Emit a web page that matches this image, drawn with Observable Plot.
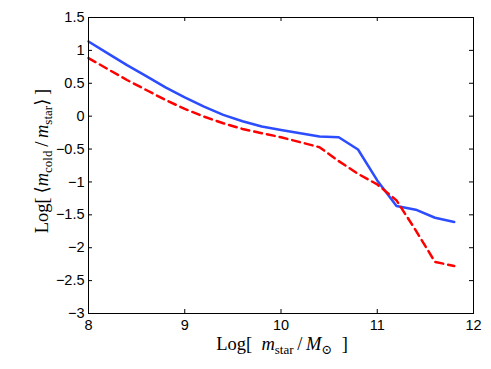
<!DOCTYPE html>
<html><head><meta charset="utf-8">
<script src="https://cdn.jsdelivr.net/npm/d3@7"></script>
<script src="https://cdn.jsdelivr.net/npm/@observablehq/plot@0.6"></script>
<style>body{margin:0;background:#fff}</style>
</head><body><div id="chart"></div>
<script>
const logMstar = [8.0, 8.2, 8.4, 8.6, 8.8, 9.0, 9.2, 9.4, 9.6, 9.8, 10.0, 10.2, 10.4, 10.6, 10.8, 11.0, 11.2, 11.4, 11.6, 11.8];
const coldBlue = [1.136, 0.954, 0.777, 0.610, 0.438, 0.287, 0.145, 0.019, -0.077, -0.158, -0.209, -0.259, -0.310, -0.320, -0.507, -0.977, -1.367, -1.422, -1.544, -1.609];
const coldRed = [0.883, 0.716, 0.550, 0.398, 0.246, 0.110, -0.007, -0.108, -0.194, -0.259, -0.320, -0.396, -0.472, -0.684, -0.876, -1.038, -1.280, -1.736, -2.216, -2.277];
const xTicks = [8, 9, 10, 11, 12];
const yTicks = [-3, -2.5, -2, -1.5, -1, -0.5, 0, 0.5, 1, 1.5];

const rows = logMstar.map((x, i) => ({x, blue: coldBlue[i], red: coldRed[i]}));

const W = 491, H = 369, mL = 88, mR = 18, mT = 17, mB = 56;
const innerW = W - mL - mR, innerH = H - mT - mB;
const tk = 4;

const chart = Plot.plot({
  width: W, height: H,
  marginLeft: mL, marginRight: mR, marginTop: mT, marginBottom: mB,
  style: {fontFamily: "'Liberation Sans', Arial, sans-serif", fontSize: "14px", background: "#fff", color: "#000"},
  x: {domain: [8, 12]},
  y: {domain: [-3, 1.5]},
  marks: [
    Plot.axisX({ticks: xTicks, tickSize: 0, tickPadding: 6, tickFormat: d3.format(""), label: null, fontSize: 14.5}),
    Plot.axisY({ticks: yTicks, tickSize: 0, tickPadding: 4, tickFormat: d3.format(""), label: null, fontSize: 14.5}),
    Plot.tickX(xTicks, {x: d => d, insetTop: innerH - tk, stroke: "#000"}),
    Plot.tickX(xTicks, {x: d => d, insetBottom: innerH - tk, stroke: "#000"}),
    Plot.tickY(yTicks, {y: d => d, insetRight: innerW - tk, stroke: "#000"}),
    Plot.tickY(yTicks, {y: d => d, insetLeft: innerW - tk, stroke: "#000"}),
    Plot.line(rows, {x: "x", y: "blue", stroke: "#2b4cff", strokeWidth: 2.5}),
    Plot.line(rows, {x: "x", y: "red", stroke: "#ff0000", strokeWidth: 2.5, strokeDasharray: "8,5"}),
    Plot.frame({stroke: "#000"})
  ]
});
document.getElementById("chart").appendChild(chart);

const svg = d3.select(chart);
const serif = "'Liberation Serif', 'DejaVu Serif', serif";

// x label: Log[ m_star / M_sun ]
const xl = svg.append("text")
  .attr("x", 282).attr("y", 350).attr("text-anchor", "middle")
  .attr("fill", "#000").style("font-family", serif).style("font-size", "18.5px");
xl.append("tspan").text("Log[\u2002");
xl.append("tspan").attr("font-style", "italic").text("m");
xl.append("tspan").attr("font-size", "13px").attr("dy", 4).text("star");
xl.append("tspan").attr("dy", -4).text("\u2009/\u2009");
xl.append("tspan").attr("font-style", "italic").text("M");
xl.append("tspan").attr("font-size", "13px").attr("dy", 4).text("\u2299");
xl.append("tspan").attr("dy", -4).text("\u2002]");

// y label: Log[ <m_cold / m_star> ]
const yl = svg.append("text")
  .attr("transform", "translate(48,161) rotate(-90)")
  .attr("text-anchor", "middle")
  .attr("fill", "#000").style("font-family", serif).style("font-size", "18.5px");
yl.append("tspan").text("Log[\u2009\u27E8");
yl.append("tspan").attr("font-style", "italic").text("m");
yl.append("tspan").attr("font-size", "13px").attr("dy", 4).text("cold");
yl.append("tspan").attr("dy", -4).text("\u2009/\u2009");
yl.append("tspan").attr("font-style", "italic").text("m");
yl.append("tspan").attr("font-size", "13px").attr("dy", 4).text("star");
yl.append("tspan").attr("dy", -4).text("\u27E9\u2009]");
</script>
</body></html>
